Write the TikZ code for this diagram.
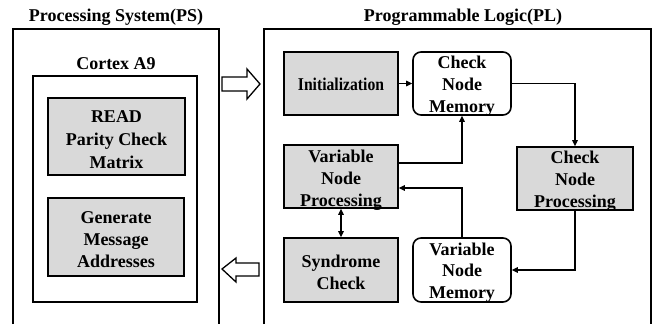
\documentclass[tikz,border=0pt]{standalone}
\usepackage{fontspec}
\setmainfont{Liberation Serif}
\usetikzlibrary{arrows.meta}
\definecolor{boxgrey}{HTML}{D9D9D9}
\tikzset{
  frame/.style={line width=1.5pt, draw=black},
  txt/.style={align=center, inner sep=0pt, yshift=-2.5pt,
    font=\fontsize{18}{21.8}\selectfont\bfseries},
  blk/.style={draw=black, line width=1.6pt, fill=boxgrey, inner sep=0pt},
  mem/.style={draw=black, line width=1.6pt, fill=white, rounded corners=8pt, inner sep=0pt},
  ttl/.style={font=\fontsize{18}{21}\selectfont\bfseries, inner sep=0pt},
  conn/.style={line width=1.2pt, -{Triangle[length=6pt,width=5.5pt]}},
  biconn/.style={line width=1.2pt, {Triangle[length=6pt,width=5.5pt]}-{Triangle[length=6pt,width=5.5pt]}},
  barrow/.style={line width=1.3pt, draw=black, fill=white}
}
\begin{document}
\begin{tikzpicture}[x=1pt,y=-1pt]
\useasboundingbox (0,0) rectangle (652,324);
% outer frames (open at bottom)
\draw[frame] (13,324) -- (13,29) -- (219,29) -- (219,324);
\draw[frame] (264,324) -- (264,29) -- (651,29) -- (651,324);
\node[ttl] (pstitle) at (116,17.5) {Processing System(PS)};
\node[ttl] (pltitle) at (463,17.5) {Programmable Logic(PL)};
% Cortex A9
\node[ttl] (cortex) at (116,64) {Cortex A9};
\node[draw=black, line width=1.5pt, minimum width=164pt, minimum height=226pt, inner sep=0pt] (a9) at (115,189) {};
\node[blk, minimum width=137pt, minimum height=77pt,
  label={[txt, font=\fontsize{18}{23}\selectfont\bfseries, yshift=-0.5pt]center:READ\\Parity Check\\Matrix}] (read) at (116.5,136.5) {};
\node[blk, minimum width=136pt, minimum height=78pt,
  label={[txt]center:Generate\\Message\\Addresses}] (gen) at (116,237) {};
% block arrows
\draw[barrow] (222,77) -- (247,77) -- (247,69) -- (260,84) -- (247,99) -- (247,91) -- (222,91) -- cycle;
\draw[barrow] (259,263) -- (236,263) -- (236,258) -- (222,269) -- (236,282) -- (236,276) -- (259,276) -- cycle;
% PL blocks
\node[blk, minimum width=114pt, minimum height=63pt,
  label={[txt, yshift=1.5pt]center:\scalebox{0.87}[1]{Initialization}}] (init) at (341,83.5) {};
\node[mem, minimum width=98pt, minimum height=63pt,
  label={[txt]center:Check\\Node\\Memory}] (cnm) at (462,83.5) {};
\node[blk, minimum width=116pt, minimum height=63pt,
  label={[txt]center:Check\\Node\\Processing}] (cnp) at (575,178.5) {};
\node[blk, minimum width=114pt, minimum height=63pt,
  label={[txt, yshift=-1pt]center:Variable\\Node\\Processing}] (vnp) at (341,176.5) {};
\node[blk, minimum width=114pt, minimum height=64pt,
  label={[txt]center:Syndrome\\Check}] (sc) at (341,270) {};
\node[mem, minimum width=98pt, minimum height=64pt,
  label={[txt]center:Variable\\Node\\Memory}] (vnm) at (462,270) {};
% connectors
\draw[conn] (init) -- (cnm);
\draw[conn] (cnm.east) -| (cnp.north);
\draw[conn] ([yshift=13.5pt]vnp.east) -| (cnm.south);
\draw[conn] (vnm.north) |- ([yshift=-11.5pt]vnp.east);
\draw[conn] (cnp.south) |- (vnm.east);
\draw[biconn] (vnp.south) -- (sc.north);
\end{tikzpicture}
\end{document}
